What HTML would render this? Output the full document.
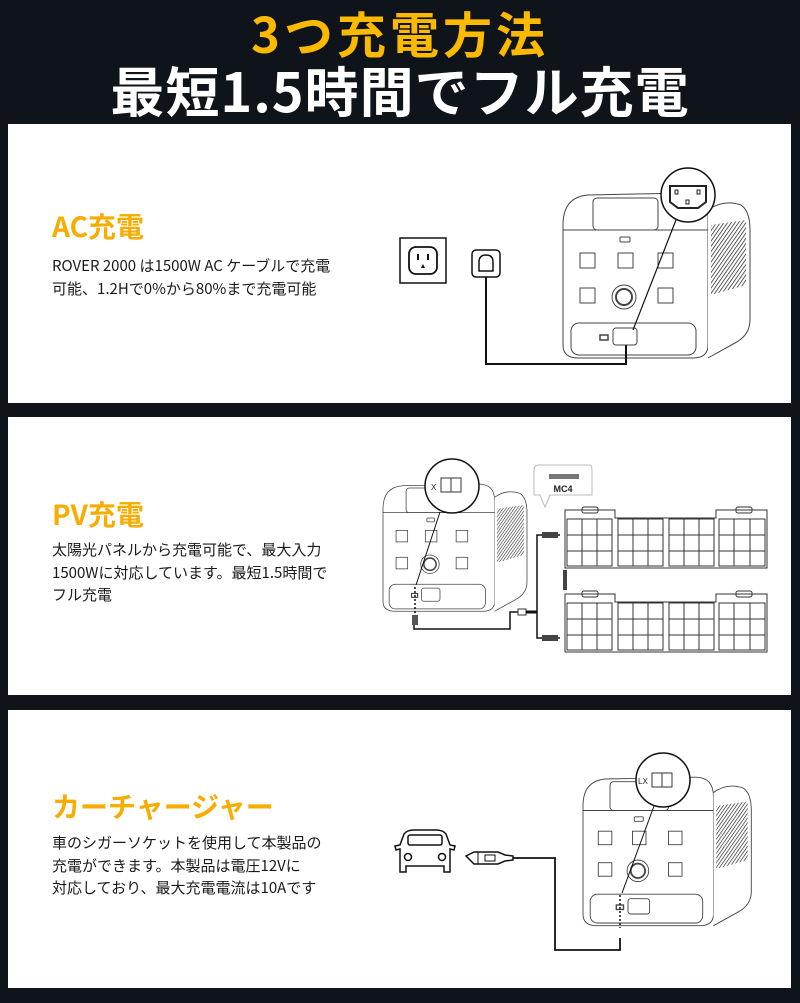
<!DOCTYPE html>
<html><head><meta charset="utf-8"><style>
*{margin:0;padding:0;box-sizing:border-box}
body{width:800px;height:1003px;background:#0f141b;position:relative;overflow:hidden;font-family:"Liberation Sans","Noto Sans CJK JP",sans-serif}
.t{position:absolute;left:0;width:800px;text-align:center;font-weight:bold;white-space:nowrap}
.p{position:absolute;left:8px;width:783px;background:#fff}
.h{position:absolute;left:52px;color:#f7ad00;font-size:28px;font-weight:bold;white-space:nowrap;font-family:"Noto Sans CJK JP",sans-serif}
.b{position:absolute;left:52px;color:#1a1a1a;font-size:15px;line-height:22.5px;white-space:nowrap;font-family:"Noto Sans CJK JP",sans-serif}
svg{position:absolute;left:0;top:0}
</style></head><body>
<div class="t" style="top:4px;font-size:49px;color:#fbb900;letter-spacing:4px;font-family:'Noto Sans CJK JP',sans-serif;line-height:58px">3つ充電方法</div>
<div class="t" style="top:58px;font-size:54px;color:#fff;letter-spacing:1px;font-family:'Noto Sans CJK JP',sans-serif;line-height:62px">最短1.5時間でフル充電</div>

<div class="p" style="top:124px;height:279px"></div>
<div class="p" style="top:417px;height:278px"></div>
<div class="p" style="top:710px;height:278px"></div>

<div class="h" style="top:206px;line-height:40px">AC充電</div>
<div class="b" style="top:255px">ROVER 2000 は1500W AC ケーブルで充電<br>可能、1.2Hで0%から80%まで充電可能</div>
<div class="h" style="top:494px;line-height:40px">PV充電</div>
<div class="b" style="top:539px">太陽光パネルから充電可能で、最大入力<br>1500Wに対応しています。最短1.5時間で<br>フル充電</div>
<div class="h" style="top:786px;line-height:40px">カーチャージャー</div>
<div class="b" style="top:832px">車のシガーソケットを使用して本製品の<br>充電ができます。本製品は電圧12Vに<br>対応しており、最大充電電流は10Aです</div>

<svg width="800" height="1003" viewBox="0 0 800 1003">
<defs>
<pattern id="vent" width="3" height="3" patternUnits="userSpaceOnUse" patternTransform="rotate(35)"><line x1="0" y1="0" x2="0" y2="3" stroke="#333" stroke-width="1.6"/></pattern>
<g id="dev" fill="none" stroke="#444" stroke-width="1">
<path d="M0,40 Q0,12 25,10 L125,8 Q145,8 145,30 L145,160 Q145,173 130,173 L15,173 Q0,173 0,160 Z" fill="#fff"/>
<path d="M145,25 Q160,14 178,20 Q187,26 187,45 L187,135 Q187,150 172,158 L145,173" fill="#fff"/>
<path d="M148,40 L183,35 L183,100 L148,110 Z" fill="url(#vent)" stroke="none"/>
<rect x="30" y="13" width="65" height="32" rx="4"/>
<line x1="0" y1="45" x2="145" y2="45"/>
<rect x="57" y="52" width="10" height="5" rx="1"/>
<rect x="17" y="68" width="15" height="15"/><rect x="55" y="68" width="15" height="15"/><rect x="95" y="68" width="15" height="15"/>
<rect x="17" y="103" width="15" height="15"/><rect x="95" y="103" width="15" height="15"/>
<circle cx="61" cy="112" r="12"/><circle cx="61" cy="112" r="8" stroke-width="2"/>
<rect x="8" y="138" width="125" height="32" rx="8"/>
<rect x="50" y="143" width="24" height="17" rx="3" fill="#fff"/>
<rect x="37" y="150" width="8" height="5" stroke-width="1.5"/>
</g>
</defs>

<use href="#dev" x="563" y="185"/>
<circle cx="688" cy="195" r="27" fill="#fff" stroke="#111" stroke-width="1.5"/>
<path d="M670,186 L706,186 L706,202 L698,208 L678,208 L670,202 Z" fill="none" stroke="#222" stroke-width="2"/>
<rect x="675" y="190" width="3" height="4" fill="none" stroke="#222"/><rect x="697" y="190" width="3" height="4" fill="none" stroke="#222"/><rect x="686" y="200" width="3" height="4" fill="none" stroke="#222"/>
<line x1="676" y1="220" x2="633" y2="330" stroke="#111" stroke-width="1.2"/>
<rect x="400" y="238" width="46" height="45" fill="#fff" stroke="#111" stroke-width="1.5"/>
<rect x="409" y="247" width="28" height="27" rx="7" fill="none" stroke="#111" stroke-width="1.8"/>
<line x1="418" y1="254" x2="418" y2="260" stroke="#111" stroke-width="2"/><line x1="428" y1="254" x2="428" y2="260" stroke="#111" stroke-width="2"/>
<path d="M421,268 L423,264 L425,268 Z" fill="#111"/>
<rect x="472" y="250" width="28" height="27" rx="4" fill="#fff" stroke="#111" stroke-width="1.5"/>
<path d="M479,271 L479,262 Q479,255 486,255 Q493,255 493,262 L493,271 Z" fill="none" stroke="#111" stroke-width="1.5"/>
<polyline points="486,277 486,364 626,364 626,345" fill="none" stroke="#111" stroke-width="2"/>

<use href="#dev" transform="translate(383,478) scale(0.77)"/>
<circle cx="452" cy="486" r="27" fill="#fff" stroke="#111" stroke-width="1.5"/>
<rect x="441" y="478" width="10" height="14" fill="none" stroke="#333"/><rect x="451" y="478" width="10" height="14" fill="none" stroke="#333"/>
<text x="431" y="490" font-size="8" font-family="Liberation Sans" fill="#222">X</text>
<line x1="440" y1="512" x2="416" y2="585" stroke="#111" stroke-width="1"/>
<line x1="415" y1="587" x2="415" y2="615" stroke="#111" stroke-width="1.5" stroke-dasharray="2,2"/>
<rect x="412" y="615" width="6" height="10" fill="#555"/>
<polyline points="414,625 414,629 510,629 510,612 520,612" fill="none" stroke="#111" stroke-width="1.5"/>
<rect x="518" y="609" width="8" height="6" fill="#fff" stroke="#333"/>
<line x1="526" y1="612" x2="537" y2="612" stroke="#111" stroke-width="3"/>
<polyline points="560,535 537,535 537,638 560,638" fill="none" stroke="#111" stroke-width="1.5"/>
<rect x="542" y="532" width="16" height="6" fill="#444"/><rect x="542" y="635" width="16" height="6" fill="#444"/>
<rect x="563" y="570" width="4" height="20" fill="#444"/>
<path d="M539,465 L589,465 Q592,465 592,470 L592,495 L550,495 L545,507 L540,495 L534,495 L534,470 Q534,465 539,465 Z" fill="#fff" stroke="#bbb"/>
<rect x="549" y="474" width="30" height="5" fill="#777"/>
<text x="563" y="492" font-size="9" font-family="Liberation Sans" font-weight="bold" text-anchor="middle" fill="#222">MC4</text>
<g fill="none" stroke="#333" stroke-width="1">
<g id="sp">
<path d="M565,510 L615,510 L615,518 L716,518 L716,510 L767,510 L767,568 L565,568 Z" fill="#fff"/>
<rect x="582" y="507" width="16" height="6" rx="2"/><rect x="736" y="507" width="16" height="6" rx="2"/>
<path d="M567,519h45v47h-45zM567,535h45M567,551h45M582,519v47M597,519v47"/>
<path d="M618,519h45v47h-45zM618,535h45M618,551h45M633,519v47M648,519v47"/>
<path d="M669,519h45v47h-45zM669,535h45M669,551h45M684,519v47M699,519v47"/>
<path d="M719,519h46v47h-46zM719,535h46M719,551h46M734,519v47M750,519v47"/>
</g>
<use href="#sp" y="84"/>
</g>

<use href="#dev" transform="translate(583,770) scale(0.9)"/>
<circle cx="663" cy="780" r="27" fill="#fff" stroke="#111" stroke-width="1.5"/>
<rect x="652" y="773" width="10" height="14" fill="none" stroke="#333"/><rect x="662" y="773" width="10" height="14" fill="none" stroke="#333"/>
<text x="638" y="784" font-size="8" font-family="Liberation Sans" fill="#222">LX</text>
<line x1="654" y1="806" x2="622" y2="893" stroke="#111" stroke-width="1"/>
<line x1="620" y1="895" x2="620" y2="928" stroke="#111" stroke-width="1.5" stroke-dasharray="2,2"/>
<polyline points="620,938 620,950 555,950 555,858 512,858" fill="none" stroke="#111" stroke-width="1.8"/>
<path d="M400,845 L404,834 Q407,830 414,830 L436,830 Q443,830 446,834 L450,845 L455,846 L454,850 L450,849 L450,872 L444,872 L444,866 L406,866 L406,872 L400,872 L400,849 L396,850 L395,846 Z" fill="#fff" stroke="#111" stroke-width="1.5"/>
<rect x="408" y="835" width="34" height="10" rx="2" fill="none" stroke="#111" stroke-width="1.5"/>
<circle cx="408" cy="857" r="3.5" fill="none" stroke="#111" stroke-width="1.5"/><circle cx="442" cy="857" r="3.5" fill="none" stroke="#111" stroke-width="1.5"/>
<path d="M466,856 L474,852 L498,852 L505,855 L513,856 L513,860 L505,861 L498,864 L474,864 Z" fill="#fff" stroke="#111" stroke-width="1.5"/>
<line x1="478" y1="852" x2="478" y2="864" stroke="#111"/><rect x="485" y="855" width="10" height="6" fill="none" stroke="#111"/>
</svg>
</body></html>
